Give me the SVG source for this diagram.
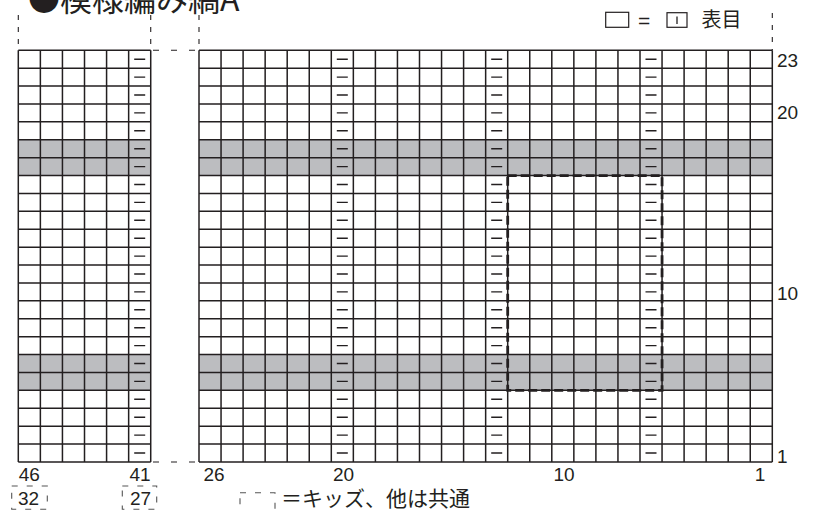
<svg xmlns="http://www.w3.org/2000/svg" width="815" height="512" viewBox="0 0 815 512">
<style>
.grid{fill:none;stroke:#231f20;stroke-width:1.5}
.purl{fill:none;stroke:#231f20;stroke-width:1.4}
.ext{fill:none;stroke:#231f20;stroke-width:1.1;stroke-dasharray:5 7}
.kids{fill:none;stroke:#231f20;stroke-width:2.8;stroke-dasharray:9 4}
.brk{fill:none;stroke:#555;stroke-width:1.1;stroke-dasharray:6 9}
.num{font-family:"Liberation Sans",Arial,sans-serif;font-size:19px;fill:#231f20}
.jp{font-family:"Noto Sans CJK JP","Noto Sans",sans-serif;fill:#231f20}
.band{fill:#bcbdc0}
</style>
<rect width="815" height="512" fill="#fff"/>
<text class="jp" x="28" y="10.5" font-size="32">●模様編み縞A</text>
<g id="legend-top">
<rect x="605.7" y="12.3" width="23" height="15" fill="none" stroke="#231f20" stroke-width="1.2"/>
<text x="638" y="28" style="font-family:'Liberation Sans',Arial,sans-serif;font-size:21px;fill:#231f20">=</text>
<rect x="667" y="12.7" width="20" height="14.6" fill="none" stroke="#231f20" stroke-width="1.2"/>
<line x1="677" y1="16.5" x2="677" y2="24" stroke="#231f20" stroke-width="1.3"/>
<text class="jp" x="701.5" y="27" font-size="20">表目</text>
</g>
<g id="bands">
<rect class="band" x="18.3" y="139.75" width="132.42" height="35.8"/>
<rect class="band" x="199" y="139.75" width="573.3" height="35.8"/>
<rect class="band" x="18.3" y="354.55" width="132.42" height="35.8"/>
<rect class="band" x="199" y="354.55" width="573.3" height="35.8"/>
</g>
<g id="grid">
<path class="grid" d="M18.3 50.25H150.72M199 50.25H772.3M18.3 68.15H150.72M199 68.15H772.3M18.3 86.05H150.72M199 86.05H772.3M18.3 103.95H150.72M199 103.95H772.3M18.3 121.85H150.72M199 121.85H772.3M18.3 139.75H150.72M199 139.75H772.3M18.3 157.65H150.72M199 157.65H772.3M18.3 175.55H150.72M199 175.55H772.3M18.3 193.45H150.72M199 193.45H772.3M18.3 211.35H150.72M199 211.35H772.3M18.3 229.25H150.72M199 229.25H772.3M18.3 247.15H150.72M199 247.15H772.3M18.3 265.05H150.72M199 265.05H772.3M18.3 282.95H150.72M199 282.95H772.3M18.3 300.85H150.72M199 300.85H772.3M18.3 318.75H150.72M199 318.75H772.3M18.3 336.65H150.72M199 336.65H772.3M18.3 354.55H150.72M199 354.55H772.3M18.3 372.45H150.72M199 372.45H772.3M18.3 390.35H150.72M199 390.35H772.3M18.3 408.25H150.72M199 408.25H772.3M18.3 426.15H150.72M199 426.15H772.3M18.3 444.05H150.72M199 444.05H772.3M18.3 461.95H150.72M199 461.95H772.3"/>
<path class="grid" d="M18.3 50.25V461.95M40.37 50.25V461.95M62.44 50.25V461.95M84.51 50.25V461.95M106.58 50.25V461.95M128.65 50.25V461.95M150.72 50.25V461.95M199 50.25V461.95M221.05 50.25V461.95M243.1 50.25V461.95M265.15 50.25V461.95M287.2 50.25V461.95M309.25 50.25V461.95M331.3 50.25V461.95M353.35 50.25V461.95M375.4 50.25V461.95M397.45 50.25V461.95M419.5 50.25V461.95M441.55 50.25V461.95M463.6 50.25V461.95M485.65 50.25V461.95M507.7 50.25V461.95M529.75 50.25V461.95M551.8 50.25V461.95M573.85 50.25V461.95M595.9 50.25V461.95M617.95 50.25V461.95M640 50.25V461.95M662.05 50.25V461.95M684.1 50.25V461.95M706.15 50.25V461.95M728.2 50.25V461.95M750.25 50.25V461.95M772.3 50.25V461.95"/>
</g>
<g id="purl-marks">
<path class="purl" d="M134.2 59.2h11M336.8 59.2h11M491.2 59.2h11M645.5 59.2h11M134.2 77.1h11M336.8 77.1h11M491.2 77.1h11M645.5 77.1h11M134.2 95h11M336.8 95h11M491.2 95h11M645.5 95h11M134.2 112.9h11M336.8 112.9h11M491.2 112.9h11M645.5 112.9h11M134.2 130.8h11M336.8 130.8h11M491.2 130.8h11M645.5 130.8h11M134.2 148.7h11M336.8 148.7h11M491.2 148.7h11M645.5 148.7h11M134.2 166.6h11M336.8 166.6h11M491.2 166.6h11M645.5 166.6h11M134.2 184.5h11M336.8 184.5h11M491.2 184.5h11M645.5 184.5h11M134.2 202.4h11M336.8 202.4h11M491.2 202.4h11M645.5 202.4h11M134.2 220.3h11M336.8 220.3h11M491.2 220.3h11M645.5 220.3h11M134.2 238.2h11M336.8 238.2h11M491.2 238.2h11M645.5 238.2h11M134.2 256.1h11M336.8 256.1h11M491.2 256.1h11M645.5 256.1h11M134.2 274h11M336.8 274h11M491.2 274h11M645.5 274h11M134.2 291.9h11M336.8 291.9h11M491.2 291.9h11M645.5 291.9h11M134.2 309.8h11M336.8 309.8h11M491.2 309.8h11M645.5 309.8h11M134.2 327.7h11M336.8 327.7h11M491.2 327.7h11M645.5 327.7h11M134.2 345.6h11M336.8 345.6h11M491.2 345.6h11M645.5 345.6h11M134.2 363.5h11M336.8 363.5h11M491.2 363.5h11M645.5 363.5h11M134.2 381.4h11M336.8 381.4h11M491.2 381.4h11M645.5 381.4h11M134.2 399.3h11M336.8 399.3h11M491.2 399.3h11M645.5 399.3h11M134.2 417.2h11M336.8 417.2h11M491.2 417.2h11M645.5 417.2h11M134.2 435.1h11M336.8 435.1h11M491.2 435.1h11M645.5 435.1h11M134.2 453h11M336.8 453h11M491.2 453h11M645.5 453h11"/>
</g>
<g id="extensions">
<path class="ext" d="M18.3 15V50M150.72 15V50M199 15V50M772.3 13V50"/>
<path class="ext" d="M153 50.25H199M153 461.95H199" style="stroke-dasharray:6 12"/>
</g>
<rect id="kids-area" class="kids" x="507.7" y="175.55" width="154.35" height="214.8"/>
<g id="row-numbers">
<text class="num" x="777" y="67">23</text>
<text class="num" x="777" y="119">20</text>
<text class="num" x="777" y="300">10</text>
<text class="num" x="777" y="463">1</text>
</g>
<g id="col-numbers" text-anchor="middle">
<text class="num" x="29.3" y="481">46</text>
<text class="num" x="140" y="481">41</text>
<text class="num" x="214" y="481">26</text>
<text class="num" x="343.5" y="481">20</text>
<text class="num" x="564" y="481">10</text>
<text class="num" x="760" y="481">1</text>
<text class="num" x="28.5" y="505">32</text>
<text class="num" x="140.5" y="505">27</text>
</g>
<g id="kids-brackets">
<rect class="brk" x="11.7" y="486" width="35.6" height="23.3"/>
<rect class="brk" x="122.3" y="486" width="34.4" height="23.3"/>
<rect class="brk" x="240" y="492.7" width="35" height="23.3"/>
</g>
<text class="jp" x="281" y="505.5" font-size="21">＝キッズ、他は共通</text>
</svg>
